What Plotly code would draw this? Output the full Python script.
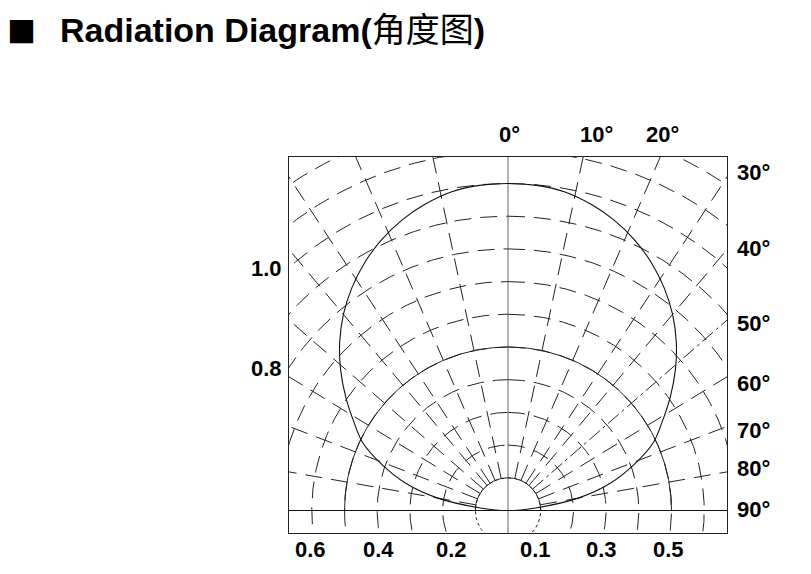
import numpy as np
import plotly.graph_objects as go

# ---- data ----
# relative intensity vs. off-axis angle (degrees), symmetric pattern
pattern_angle = [0, 5, 10, 15, 20, 25, 30, 35, 40, 45, 50, 55, 60, 65, 70, 75, 80, 85, 87.5, 90]
pattern_intensity = [1.00, 0.998, 0.99, 0.971, 0.946, 0.914, 0.876, 0.832, 0.783, 0.728,
                     0.668, 0.606, 0.545, 0.49, 0.41, 0.325, 0.218, 0.085, 0.04, 0.0]

# polar grid
grid_radii = [0.1, 0.2, 0.3, 0.4, 0.5, 0.6, 0.7, 0.8, 0.9, 1.0, 1.1, 1.2]
solid_radii = [0.1, 0.5]
radial_angles = [12, 23.3, 33.3, 40, 49, 58.6, 69, 80]
dashdot_angle = 49

# labels
top_labels = ["0°", "10°", "20°"]
right_labels = ["30°", "40°", "50°", "60°", "70°", "80°", "90°"]
left_labels = ["1.0", "0.8"]
bottom_labels = ["0.6", "0.4", "0.2", "0.1", "0.3", "0.5"]

# label placement (screen pixels)
top_label_px = [509, 596, 662]
right_label_py = [172.5, 248, 323, 383, 430, 468, 509]
left_label_py = [268, 368]
bottom_label_px = [310, 378, 451, 535, 601, 668]

LINE = "#222222"
DASH = "17px,9px"

fig = go.Figure()

def add_line(x, y, color=LINE, width=1, dash="solid", shape="linear"):
    fig.add_trace(go.Scatter(x=x, y=y, mode="lines",
                             line=dict(color=color, width=width, dash=dash, shape=shape),
                             hoverinfo="skip", showlegend=False))

# concentric dashed circles
t = np.linspace(0, 2 * np.pi, 721)
for r in grid_radii:
    d = "3px,3px" if r == 0.1 else DASH
    add_line(r * np.sin(t), r * np.cos(t), width=1, dash=d)

# radial dashed lines
for a in radial_angles:
    for s in (-1, 1):
        th = np.radians(s * a)
        rr = np.array([0.1, 1.7])
        d = "14px,4px,3px,4px" if (s == 1 and a == dashdot_angle) else DASH
        add_line(rr * np.sin(th), rr * np.cos(th), width=1, dash=d)

# solid upper semicircles
h = np.linspace(-np.pi / 2, np.pi / 2, 361)
for r in solid_radii:
    add_line(r * np.sin(h), r * np.cos(h), width=1)

# 0 deg axis and 90 deg baseline
add_line([0, 0], [-0.2, 1.2], color="#555555", width=0.9)
add_line([-0.8, 0.8], [0, 0], color="#111111", width=1.1)

# radiation pattern
ang = [-a for a in pattern_angle[::-1]] + pattern_angle[1:]
inten = pattern_intensity[::-1] + pattern_intensity[1:]
th = np.radians(ang)
ri = np.array(inten)
add_line(ri * np.sin(th), ri * np.cos(th), color="#111111", width=1.1, shape="spline")

# ---- layout geometry (page has an 8px body margin) ----
OFF = 8
SL, ST, PW, PH = 289, 157, 438, 376      # plot box on screen
PL, PT = SL - OFF, ST - OFF

def px(x):
    return (x - SL) / PW

def py(y):
    return (ST + PH - y) / PH

lab_font = dict(family="Liberation Sans, Arial, sans-serif", size=22, color="black")
ann = []
for txt, x in zip(top_labels, top_label_px):
    ann.append(dict(x=px(x), y=py(135), xref="paper", yref="paper", text="<b>%s</b>" % txt,
                    showarrow=False, xanchor="center", yanchor="middle", font=lab_font))
for txt, y in zip(right_labels, right_label_py):
    ann.append(dict(x=px(735), y=py(y), xref="paper", yref="paper", text="<b>%s</b>" % txt,
                    showarrow=False, xanchor="left", yanchor="middle", font=lab_font))
for txt, y in zip(left_labels, left_label_py):
    ann.append(dict(x=px(284), y=py(y), xref="paper", yref="paper", text="<b>%s</b>" % txt,
                    showarrow=False, xanchor="right", yanchor="middle", font=lab_font))
for txt, x in zip(bottom_labels, bottom_label_px):
    ann.append(dict(x=px(x), y=py(549), xref="paper", yref="paper", text="<b>%s</b>" % txt,
                    showarrow=False, xanchor="center", yanchor="middle", font=lab_font))

ann.append(dict(x=px(21.5), y=py(30.5), xref="paper", yref="paper", text="■",
                showarrow=False, xanchor="center", yanchor="middle", borderpad=0,
                font=dict(family="Noto Sans CJK SC, DejaVu Sans", size=29, color="black")))
ann.append(dict(x=px(58), y=py(30), xref="paper", yref="paper",
                text="<b>Radiation Diagram(</b>角度图<b>)</b>",
                showarrow=False, xanchor="left", yanchor="middle",
                font=dict(family="Liberation Sans, Noto Sans CJK SC, sans-serif", size=34,
                          color="black")))

fig.update_layout(
    width=811, height=574,
    margin=dict(l=PL, r=811 - PL - PW, t=PT, b=574 - PT - PH),
    paper_bgcolor="white", plot_bgcolor="white",
    annotations=ann,
    xaxis=dict(range=[-219 / 327, 219 / 327], showgrid=False, zeroline=False,
               showticklabels=False, ticks="", showline=True, mirror=True,
               linecolor="#222222", linewidth=1, fixedrange=True),
    yaxis=dict(range=[(510.5 - 533) / 327, (510.5 - 157) / 327], showgrid=False,
               zeroline=False, showticklabels=False, ticks="", showline=True,
               mirror=True, linecolor="#222222", linewidth=1, fixedrange=True),
)

fig.write_html("out.html")
